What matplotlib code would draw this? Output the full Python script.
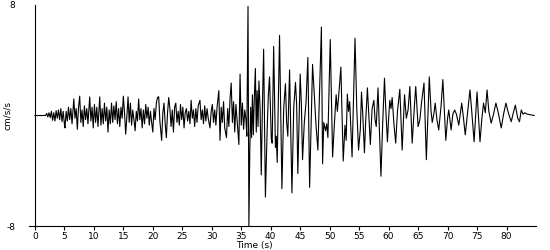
import matplotlib.pyplot as plt

plt.rcParams["axes.unicode_minus"] = False

# peak/trough readings of the trace: time (s) and acceleration (cm/s/s)
t_early = [0, 1.8, 2.0, 2.2, 2.4, 2.6, 2.8, 3.0, 3.2, 3.4, 3.6, 3.8, 4.0, 4.2, 4.4, 4.6, 4.8, 5.0, 5.1, 5.3,
           5.5, 5.7, 5.9, 6.1, 6.3, 6.6, 6.8, 7.0, 7.2, 7.4, 7.6, 7.8, 8.0, 8.2, 8.4, 8.6, 8.8, 9.0, 9.3, 9.5,
           9.7, 9.9, 10.1, 10.3, 10.5, 10.7, 11.0, 11.2, 11.4, 11.6, 11.8, 12.0, 12.2, 12.4, 12.6, 12.8, 13.0,
           13.2, 13.4, 13.6, 13.8, 14.0, 14.2, 14.4, 14.6, 14.8, 15.0, 15.2, 15.4, 15.6, 15.8, 16.0, 16.2, 16.4,
           16.6, 16.8, 17.0, 17.2, 17.4, 17.6, 17.8, 18.0, 18.2, 18.4, 18.6, 18.8, 19.0, 19.2, 19.4, 19.6, 19.8,
           20.0, 20.2, 20.4, 20.6, 20.8, 21.0, 21.2, 21.5, 21.7, 21.9, 22.1, 22.3, 22.5, 22.7, 22.9, 23.1, 23.3,
           23.5, 23.7, 23.9, 24.1, 24.3, 24.5, 24.7, 24.9, 25.1, 25.3, 25.5, 25.7, 25.9, 26.1, 26.3, 26.5, 26.7,
           26.9, 27.1, 27.3, 27.5, 27.7, 28.0, 28.2, 28.4, 28.6, 28.8, 29.0, 29.2, 29.4, 29.7, 29.9, 30.1, 30.3,
           30.5, 30.7, 30.9, 31.2, 31.4, 31.6, 31.8, 32.0, 32.2, 32.5, 32.7, 32.9, 33.1, 33.3, 33.5, 33.7, 33.9,
           34.1, 34.3, 34.6, 34.8, 35.0, 35.2, 35.4, 35.6, 35.8, 35.95]
a_early = [0, 0, 0.15, -0.1, 0.2, -0.15, 0.3, -0.35, 0.2, -0.4, 0.35, -0.2, 0.4, -0.3, 0.5, -0.45, 0.3, -0.6, -0.9, 0.3,
           -0.4, 0.6, -0.3, 0.5, -0.6, 1.2, -0.2, 0.5, -1.0, 0.6, 1.4, -0.5, 0.4, -0.8, 0.7, -0.3, 0.5, -0.6, 1.35, -0.4,
           0.6, -0.9, 0.8, -0.5, 0.6, -0.8, 1.35, -0.7, 0.5, -0.6, 0.9, -0.4, 0.6, -1.2, 0.4, -0.6, 0.9,
           -0.5, 0.7, -0.3, 1.0, -0.6, 0.5, -0.8, 0.6, -0.2, 1.4, 0.2, -1.35, -0.1, 1.35, -0.5, 0.9, -0.7,
           0.4, -0.3, -1.1, 0.3, -0.4, 1.2, -0.3, 0.5, -0.9, 0.4, -0.6, 0.8, -0.2, 0.6, -0.7, 0.3, -0.5,
           -1.2, 0.5, -0.3, 0.9, 1.3, 1.36, -0.4, -1.8, 0.2, 0.9, -0.6, -1.6, 0.2, 1.3, 0.5, -0.8, 0.4,
           -1.2, 0.6, 0.9, -0.5, 0.3, -0.7, 0.8, -0.3, 0.6, -0.9, 0.2, 0.5, -0.4, 0.3, -0.6, 1.1, -0.2,
           0.4, -0.8, 0.5, -0.5, 0.7, 1.1, -0.3, 0.4, -0.6, 0.7, -0.4, 0.5, -0.2, -0.9, 0.3, 0.8, -0.5,
           0.4, -0.7, 0.6, 1.8, -1.8, 0.6, -0.5, 1.0, -0.9, -1.6, 0.5, -0.8, 1.2, 2.35, -0.5, 1.0, -1.2,
           0.8, -0.4, -2.1, 3.0, -0.7, 0.9, -1.0, 0.4, -0.3, -1.5]

t_strong = [36.15, 36.3, 36.45, 36.6, 36.75, 36.9, 37.05, 37.2, 37.4, 37.55, 37.7, 37.85, 38.0, 38.2, 38.4,
            38.6, 38.8, 39.1, 39.4, 39.6, 39.8, 40.1, 40.25, 40.5, 40.8, 40.95, 41.1, 41.5, 41.9, 42.2, 42.5,
            42.7, 42.9, 43.2, 43.6, 43.9, 44.2, 44.4, 44.6, 45.0, 45.2, 45.4, 45.7, 46.0, 46.3, 46.6, 47.1,
            47.4, 47.7, 48.0, 48.2, 48.6, 48.8, 49.0, 49.3, 49.5, 49.7, 50.1, 50.5, 50.8, 51.1, 51.3, 51.6,
            51.9, 52.3, 52.6, 52.8, 53.0, 53.2, 53.4, 53.8, 54.3, 54.6, 54.9, 55.2, 55.4, 55.6, 55.9, 56.1,
            56.4, 56.6, 56.9, 57.2, 57.5, 57.7, 57.9, 58.2, 58.7, 59.0, 59.3, 59.5, 59.8, 60.0, 60.2, 60.4,
            60.6, 60.9, 61.2, 61.5, 61.9, 62.3, 62.7, 63.0, 63.3, 63.6, 64.0, 64.3, 64.6, 65.0, 65.3, 65.6,
            66.0, 66.4, 66.9, 67.2, 67.4, 67.7, 67.9, 68.2, 68.5, 68.9]
a_strong = [7.9, -8.0, -2.6, 0.6, -1.6, 1.5, -1.4, 1.0, 3.4, -1.2, 1.8, -0.8, 2.5, 0.5, -4.3,
            0.8, 4.8, -5.9, -1.0, 1.5, 2.8, -1.7, -2.0, 5.0, -2.3, -1.5, -3.4, 5.8, -5.3, 0.5, 2.3,
            -0.5, -1.5, 3.3, -5.6, 0.5, 2.4, 0.8, -4.2, 3.0, 0.8, -3.2, -0.5, 1.0, 4.2, -5.2, 3.7,
            1.5, -0.8, -2.5, 0.5, 6.4, -3.5, -0.5, -1.1, -0.6, -1.6, 5.5, -3.0, -0.6, 1.5, 0.3, 1.8,
            3.5, -3.3, -0.7, -1.8, 1.55, 0.3, 1.0, -3.0, 5.6, 0.5, -2.5, -1.0, 1.7, 0.2, -2.7, -0.5,
            2.0, 0.3, -2.1, 0.5, 1.1, -0.3, -0.8, 2.0, -4.4, -0.5, 2.7, 0.6, -1.9, -0.2, 1.1, 0.5,
            1.3, -0.6, -2.0, 0.3, 1.9, -2.5, 1.5, -0.2, 0.4, 2.1, -2.0, 0.2, 2.1, -0.8, -0.3, 1.0,
            2.35, -3.2, 2.8, 0.3, -0.5, 0.2, 0.9, -0.3, -1.05, 0.7]

t_coda = [69.2, 69.7, 70.0, 70.2, 70.6, 70.9, 71.2, 71.5, 71.9, 72.4, 72.7, 73.0, 73.4, 73.8, 74.1, 74.5,
          75.0, 75.2, 75.5, 75.8, 76.1, 76.4, 76.7, 77.0, 77.4, 77.8, 78.2, 78.6, 79.1, 79.5, 79.9, 80.3,
          80.8, 81.1, 81.5, 81.9, 82.2, 82.5, 82.8, 83.1, 83.5, 84.7]
a_coda = [2.6, -1.8, -0.2, 0.4, -1.05, 0.1, 0.4, 0.1, -0.7, 0.9, -0.2, -1.4, 0.2, 1.85, 0.3, -1.9,
          1.7, 0.2, -1.9, -0.3, 0.9, 0.2, 1.85, 0.3, -0.55, 0.1, 0.9, 0.2, -0.9, 0.1, 0.9, 0.2,
          -0.45, 0.1, 0.75, -0.2, -0.45, 0.4, 0.1, 0.2, 0.1, 0.0]

time = t_early + t_strong + t_coda
accel = a_early + a_strong + a_coda

x_ticks = list(range(0, 85, 5))

fig = plt.figure(figsize=(5.5, 2.5), dpi=100)
ax = fig.add_axes([29 / 550, 1 - 226 / 250, 507 / 550, 221 / 250])

ax.plot(time, accel, color="black", lw=0.8)

ax.set_xlim(-1, 85)
ax.set_ylim(-8, 8)
ax.spines["top"].set_visible(False)
ax.spines["right"].set_visible(False)
ax.spines["left"].set_position(("data", 0))

ax.set_xticks(x_ticks)
ax.set_yticks([-8, 8])
ax.tick_params(axis="x", direction="out", length=3, width=0.8, labelsize=6.5, pad=1)
ax.tick_params(axis="y", length=0, labelsize=6.5, pad=14)
ax.set_xlabel("Time (s)", fontsize=6.5)
ax.xaxis.set_label_coords(225 / 507, -0.07)
ax.set_ylabel("cm/s/s", fontsize=6.5)
ax.yaxis.set_label_coords(-17 / 507, 0.5)

fig.savefig("out.png", dpi=100)
